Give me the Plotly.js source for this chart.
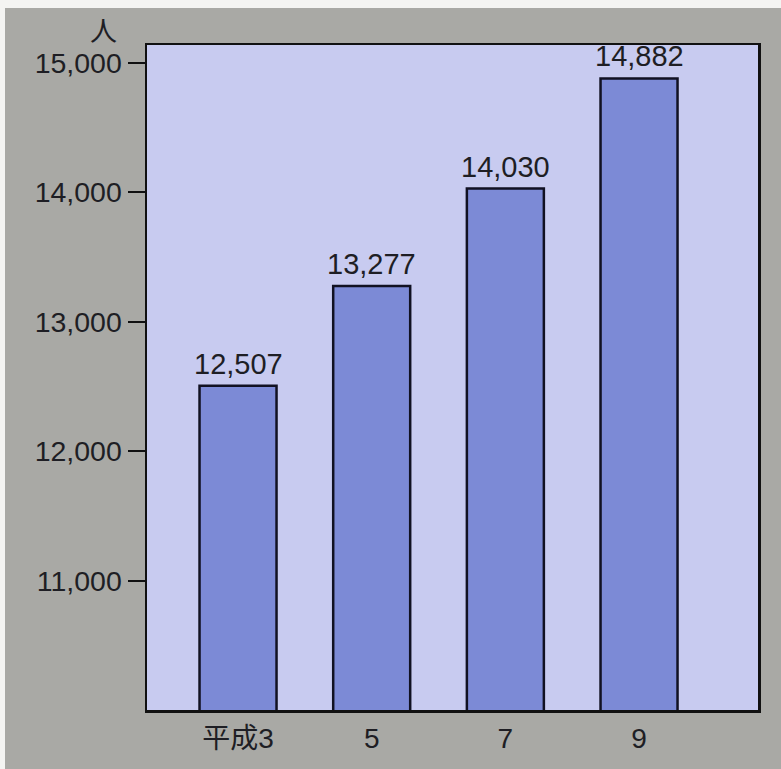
<!DOCTYPE html>
<html>
<head>
<meta charset="utf-8">
<script src="https://cdn.plot.ly/plotly-3.0.1.min.js"></script>
<style>
html,body{margin:0;padding:0;background:#f4f4f2;}
#chart{position:absolute;left:5px;top:8px;width:776px;height:761px;}
</style>
</head>
<body>
<div id="chart"></div>
<script>
const categories = ["平成3", "5", "7", "9"];
const values = [12507, 13277, 14030, 14882];
const valueLabels = ["12,507", "13,277", "14,030", "14,882"];
const yTickVals = [11000, 12000, 13000, 14000, 15000];
const yTickText = ["11,000", "12,000", "13,000", "14,000", "15,000"];
const unitLabel = "人";

const xIdx = categories.map((c, i) => i);
const FONT = "Liberation Sans, Arial, Noto Sans CJK JP, sans-serif";

const trace = {
  type: "bar",
  x: xIdx,
  y: values,
  width: 0.576,
  marker: {color: "#7c8ad6", line: {color: "#111122", width: 2.5}},
  hoverinfo: "skip"
};

const annotations = xIdx.map((x, i) => ({
  x: x, y: values[i], xref: "x", yref: "y",
  text: valueLabels[i], showarrow: false,
  yanchor: "bottom", yshift: 4,
  font: {family: FONT, size: 29, color: "#1e1e24"}
}));
annotations.push({
  xref: "paper", yref: "paper", x: -0.072, y: 1.0226,
  text: unitLabel, showarrow: false, xanchor: "center", yanchor: "middle",
  font: {family: "Noto Sans CJK JP, sans-serif", size: 27, color: "#1e1e24"}
});

const layout = {
  width: 776, height: 761,
  margin: {l: 142, r: 23, t: 37, b: 59},
  paper_bgcolor: "#a9a9a5",
  plot_bgcolor: "#c8cbf0",
  showlegend: false,
  xaxis: {
    range: [-0.681, 3.89],
    tickvals: xIdx, ticktext: categories,
    showgrid: false, zeroline: false,
    showline: true, mirror: true, linecolor: "#111111", linewidth: 2.5,
    ticks: "", ticklabelstandoff: 2,
    tickfont: {family: FONT, size: 28, color: "#1e1e24"},
    fixedrange: true
  },
  yaxis: {
    range: [10000, 15140],
    tickvals: yTickVals, ticktext: yTickText,
    showgrid: false, zeroline: false,
    showline: true, mirror: true, linecolor: "#111111", linewidth: 2.5,
    ticks: "outside", ticklen: 17, tickwidth: 2, tickcolor: "#111111",
    tickfont: {family: FONT, size: 28.5, color: "#1e1e24"},
    fixedrange: true
  },
  annotations: annotations
};

Plotly.newPlot("chart", [trace], layout, {displayModeBar: false, staticPlot: true});
</script>
</body>
</html>
